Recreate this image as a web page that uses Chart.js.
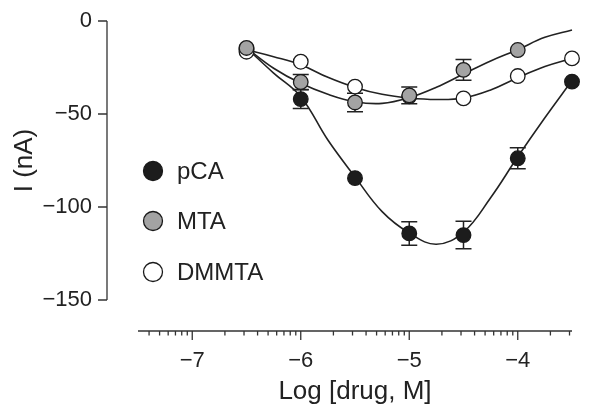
<!DOCTYPE html>
<html>
<head>
<meta charset="utf-8">
<script src="https://cdn.jsdelivr.net/npm/chart.js@4"></script>
<style>
  html, body { margin: 0; padding: 0; background: #fff; }
  canvas { display: block; }
</style>
</head>
<body>
<canvas id="chart" width="600" height="413"></canvas>
<script>
/* ── Data ───────────────────────────────────────────────────── */
const doses      = [-6.5, -6, -5.5, -5, -4.5, -4, -3.5];
const pcaMean    = [-15, -42, -84.5, -114.2, -115.1, -73.8, -32.6];
const pcaErr     = [0, 5, 0, 6.3, 7.4, 5.7, 0];
const mtaMean    = [-14.5, -32.8, -43.8, -40, -26.3, -15.6];
const mtaErr     = [0, 4, 5, 4.5, 5.6, 0];
const dmmtaMean  = [-16.5, -21.9, -35.3, -40.5, -41.6, -29.6, -20.1];
const dmmtaErr   = [0, 0, 0, 0, 0, 0, 0];

// fitted curves, sampled from the figure
const fitX     = [-6.5, -6.25, -6, -5.75, -5.5, -5.25, -5, -4.75, -4.5, -4.25, -4, -3.75, -3.5];
const pcaFit   = [-14.5, -28, -40.7, -64, -83.8, -102.5, -114, -120, -113.5, -95, -73, -52, -32];
const mtaFit   = [-14.5, -25.4, -33.5, -39.4, -43.4, -44.3, -41.2, -35.6, -28.5, -21.5, -15.4, -8.8, -4.8];
const dmmtaFit = [-15.5, -19.2, -23.5, -30.3, -35.7, -39.4, -41.4, -42.2, -41.4, -37.1, -30.5, -24.5, -20.1];

const xMajor = [-7, -6, -5, -4];
const yMajor = [0, -50, -100, -150];
const minorFactors = [2, 3, 4, 5, 6, 7, 8, 9];

const seriesNames = ['pCA', 'MTA', 'DMMTA'];
const seriesFill  = ['#1c1c1c', '#a3a3a3', '#ffffff'];

const FONT = '"Liberation Sans", Arial, Helvetica, sans-serif';
const INK = '#222';

const pts = (xs, ys) => ys.map((y, i) => ({ x: xs[i], y }));
const minus = v => (v < 0 ? '\u2212' + Math.abs(v) : String(v));

/* ── Error bars, axes, legend ───────────────────────────────── */
const errSets = [
  { mean: pcaMean, err: pcaErr },
  { mean: mtaMean, err: mtaErr },
  { mean: dmmtaMean, err: dmmtaErr },
];

const decorPlugin = {
  id: 'decor',
  beforeDatasetsDraw(chart) {
    const { ctx, scales: { x, y } } = chart;
    ctx.save();
    ctx.strokeStyle = INK;
    ctx.lineWidth = 1.5;
    errSets.forEach(s => {
      s.mean.forEach((m, i) => {
        if (!s.err[i]) return;
        const px = x.getPixelForValue(doses[i]);
        const top = y.getPixelForValue(m + s.err[i]);
        const bot = y.getPixelForValue(m - s.err[i]);
        ctx.beginPath();
        ctx.moveTo(px, top); ctx.lineTo(px, bot);
        ctx.moveTo(px - 8, top); ctx.lineTo(px + 8, top);
        ctx.moveTo(px - 8, bot); ctx.lineTo(px + 8, bot);
        ctx.stroke();
      });
    });
    ctx.restore();
  },
  afterDatasetsDraw(chart) {
    const { ctx, chartArea, scales: { x, y } } = chart;
    ctx.save();
    ctx.strokeStyle = '#333';
    ctx.lineWidth = 1.3;

    // y axis, detached to the left
    const ax = chartArea.left - 31;
    ctx.beginPath();
    ctx.moveTo(ax, y.getPixelForValue(0));
    ctx.lineTo(ax, y.getPixelForValue(-150));
    yMajor.forEach(v => {
      const py = y.getPixelForValue(v);
      ctx.moveTo(ax - 9, py); ctx.lineTo(ax, py);
    });
    ctx.stroke();

    // x axis, detached below
    const ay = chartArea.bottom + 31;
    ctx.beginPath();
    ctx.moveTo(x.getPixelForValue(-7.5), ay);
    ctx.lineTo(x.getPixelForValue(-3.5), ay);
    xMajor.forEach(v => {
      const px = x.getPixelForValue(v);
      ctx.moveTo(px, ay); ctx.lineTo(px, ay + 9);
    });
    for (let d = -8; d <= -4; d++) {
      minorFactors.forEach(k => {
        const v = d + Math.log10(k);
        if (v < -7.5 || v > -3.5) return;
        const px = x.getPixelForValue(v);
        ctx.moveTo(px, ay); ctx.lineTo(px, ay + 4.5);
      });
    }
    ctx.stroke();

    // legend
    ctx.font = '24px ' + FONT;
    ctx.textBaseline = 'middle';
    [171, 221, 272].forEach((ly, i) => {
      ctx.beginPath();
      ctx.arc(153, ly, 9.5, 0, Math.PI * 2);
      ctx.fillStyle = seriesFill[i];
      ctx.fill();
      ctx.lineWidth = 1.3;
      ctx.strokeStyle = '#1a1a1a';
      ctx.stroke();
      ctx.fillStyle = INK;
      ctx.fillText(seriesNames[i], 177, ly + 1);
    });
    ctx.restore();
  }
};

/* ── Chart ──────────────────────────────────────────────────── */
const curve = (data, order) => ({
  type: 'line', data, order, showLine: true, fill: false,
  borderColor: INK, borderWidth: 1.6, pointRadius: 0, tension: 0.4, clip: false,
});
const markers = (data, i, order) => ({
  type: 'scatter', data, order, showLine: false,
  pointRadius: 7.3, pointHoverRadius: 7.3,
  pointBackgroundColor: seriesFill[i], pointBorderColor: '#1a1a1a', pointBorderWidth: 1.3,
  clip: false,
});

// tick marks are drawn by the plugin; tickLength only spaces the labels
// (ticks.padding would also inflate the layout padding)
new Chart(document.getElementById('chart'), {
  type: 'scatter',
  data: {
    datasets: [
      curve(pts(fitX, pcaFit), 10),
      curve(pts(fitX, mtaFit), 9),
      curve(pts(fitX, dmmtaFit), 8),
      markers(pts(doses, pcaMean), 0, 3),
      markers(pts(doses, mtaMean), 1, 1),
      markers(pts(doses, dmmtaMean), 2, 2),
    ],
  },
  options: {
    responsive: false,
    animation: false,
    devicePixelRatio: 1,
    layout: { padding: { top: 21, right: 28, left: 0, bottom: 0 } },
    plugins: { legend: { display: false }, tooltip: { enabled: false } },
    scales: {
      x: {
        type: 'linear', position: 'bottom', min: -7.5, max: -3.5,
        afterFit: s => { s.height = 113; },
        afterBuildTicks: s => { s.ticks = xMajor.map(v => ({ value: v })); },
        grid: { display: false, drawTicks: true, tickLength: 48 },
        border: { display: false },
        ticks: { padding: 0, color: INK, font: { family: FONT, size: 22 }, callback: minus, maxRotation: 0 },
        title: { display: true, text: 'Log [drug, M]', color: INK, font: { family: FONT, size: 26 }, padding: { bottom: 6, top: 0 } },
      },
      y: {
        type: 'linear', min: -150, max: 0,
        afterFit: s => { s.width = 138; },
        afterBuildTicks: s => { s.ticks = yMajor.map(v => ({ value: v })); },
        grid: { display: false, drawTicks: true, tickLength: 46 },
        border: { display: false },
        ticks: { padding: 0, color: INK, font: { family: FONT, size: 22 }, callback: minus },
        title: { display: true, text: 'I (nA)', color: INK, font: { family: FONT, size: 26 }, padding: { top: 9, bottom: 0 } },
      },
    },
  },
  plugins: [decorPlugin],
});
</script>
</body>
</html>
